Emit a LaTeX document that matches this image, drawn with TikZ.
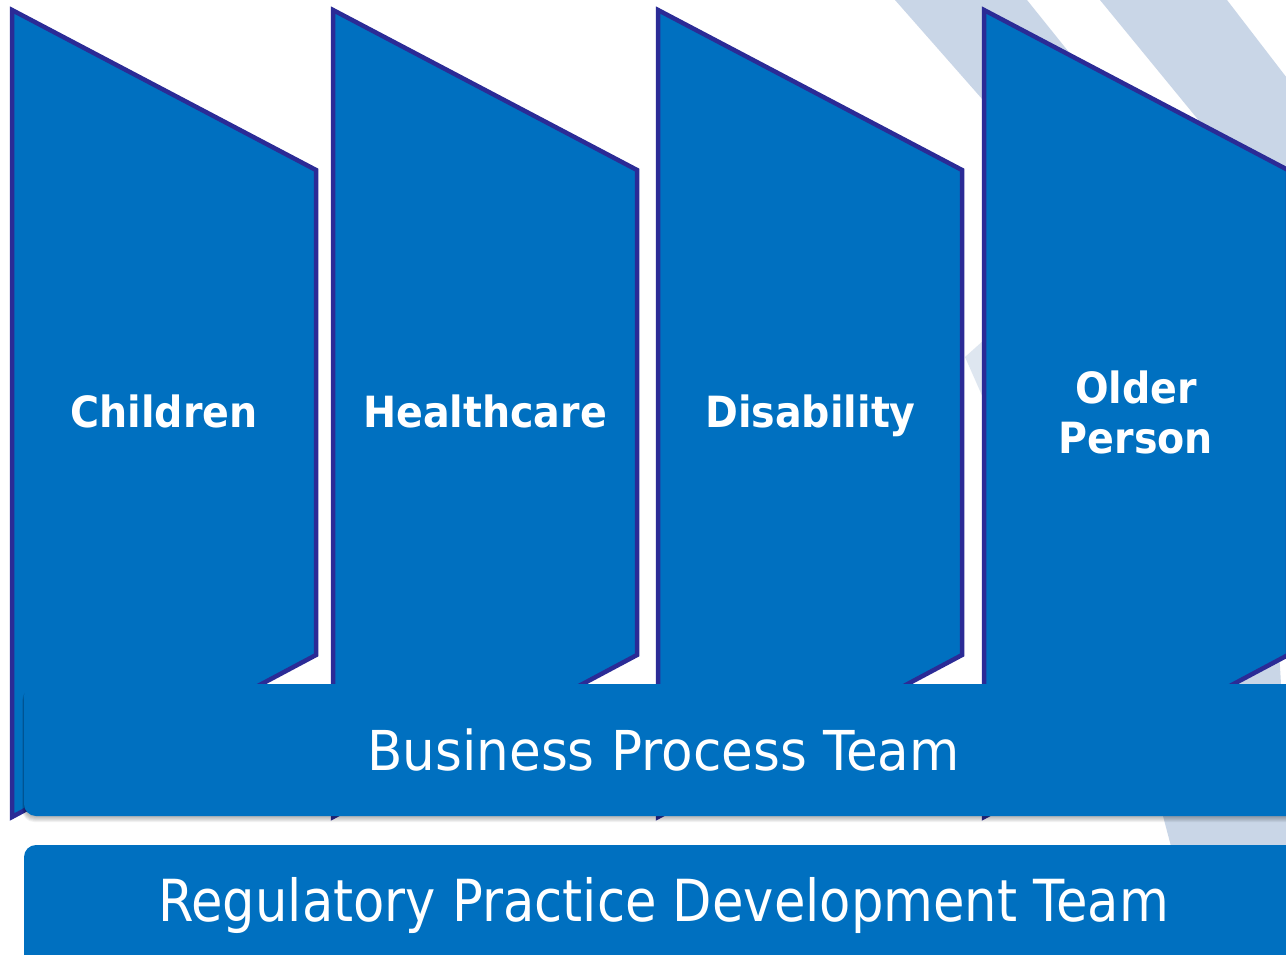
\documentclass[tikz,border=0pt]{standalone}
\usepackage{fontspec}
\usepackage{graphicx}
\setmainfont{DejaVu Sans}
\definecolor{fillblue}{HTML}{0070C0}
\definecolor{edgeblue}{HTML}{2B2B96}
\definecolor{stripe}{HTML}{C9D6E7}
\begin{document}
\begin{tikzpicture}[x=1pt,y=-1pt,
  pillar/.style={fill=fillblue, draw=edgeblue, line width=4.5pt, line join=miter},
  bar/.style={fill=fillblue, rounded corners=12pt},
  lbl/.style={text=white, font=\fontsize{43}{50}\selectfont\bfseries, anchor=base, inner sep=0pt},
  team/.style={text=white, anchor=base, inner sep=0pt}]
\useasboundingbox (0,0) rectangle (1286,955);
\clip (0,0) rectangle (1286,955);
\fill[white] (0,0) rectangle (1286,955);
% background stripes
\fill[stripe] (895,0) -- (1027,0) -- (1300,340) -- (1300,460) -- (1100,233) -- cycle;
\fill[stripe] (1100,0) -- (1227,0) -- (1300,95) -- (1300,250) -- (1223,150) -- cycle;
\fill[stripe, opacity=0.6] (984,340) -- (965,357) -- (984,400) -- cycle;
\fill[stripe] (1236,650) -- (1279,650) -- (1281,684) -- (1300,720) -- (1300,850) -- (1172,850) -- (1163,816) -- (1230,690) -- cycle;
% pillars
\foreach \x in {12,333,658,984}
  \draw[pillar] (\x,10) -- (\x+304,170) -- (\x+304,655) -- (\x,817) -- cycle;
% shadow of business bar
\foreach \s in {1,...,6}
  \fill[black, opacity=0.05, rounded corners=12pt] (24-0.3*\s,688) rectangle (1310,816+\s);
% bars
\fill[bar] (24,684) rectangle (1310,816);
\fill[bar] (24,845) rectangle (1310,990);
% labels
\node[lbl] (children) at (164,427) {\scalebox{0.92}[1]{Children}};
\node[lbl] (health) at (485,427) {\scalebox{0.92}[1]{Healthcare}};
\node[lbl] (disab) at (810.5,427) {\scalebox{0.92}[1]{Disability}};
\node[lbl] (older) at (1136,403) {\scalebox{0.92}[1]{Older}};
\node[lbl] (person) at (1136,453) {\scalebox{0.92}[1]{Person}};
\node[team, font=\fontsize{55}{60}\selectfont] (bpt) at (663.5,770) {\scalebox{0.938}[1]{Business Process Team}};
\node[team, font=\fontsize{58}{62}\selectfont] (rpdt) at (663.5,921) {\scalebox{0.882}[1]{Regulatory Practice Development Team}};
\end{tikzpicture}
\end{document}
